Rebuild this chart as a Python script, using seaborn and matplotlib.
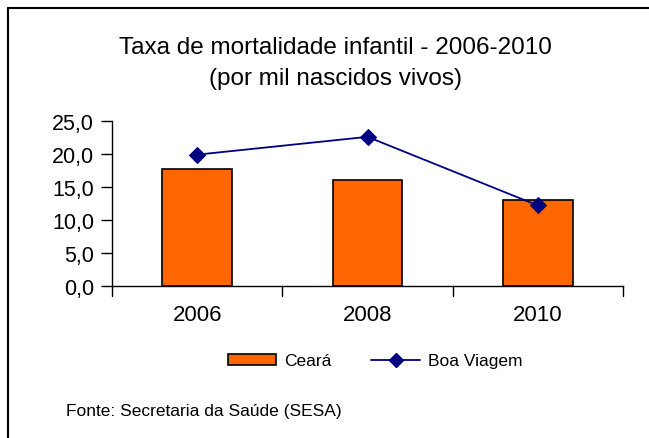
import matplotlib
matplotlib.use("Agg")
import matplotlib.pyplot as plt
import seaborn as sns
import pandas as pd
import numpy as np
from matplotlib.lines import Line2D
from matplotlib.patches import Patch

years = ["2006", "2008", "2010"]
ceara = [17.8, 16.0, 13.1]
boa_viagem = [19.9, 22.6, 12.2]
yticks = [0, 5, 10, 15, 20, 25]
ytick_labels = ["0,0", "5,0", "10,0", "15,0", "20,0", "25,0"]

sns.set_theme(style="white")
plt.rcParams['font.family'] = ['Liberation Sans', 'DejaVu Sans']
plt.rcParams['text.color'] = 'black'
plt.rcParams['xtick.color'] = 'black'
plt.rcParams['ytick.color'] = 'black'

W, H = 649, 439
fig = plt.figure(figsize=(W / 100, H / 100), dpi=100)
ax = fig.add_axes([112 / W, 1 - 287 / H, (623 - 112) / W, (287 - 122) / H])

df = pd.DataFrame({"ano": years, "Ceará": ceara, "Boa Viagem": boa_viagem})
sns.barplot(data=df, x="ano", y="Ceará", ax=ax, color="#FF6600",
            edgecolor="black", linewidth=1.2, width=0.41, saturation=1)
sns.lineplot(x=np.arange(len(years)), y=boa_viagem, ax=ax, color="#000080",
             marker="D", markersize=8, markeredgecolor="#000080", linewidth=1.3)

ax.set_xlim(-0.5, 2.5)
ax.set_ylim(0, 25)
ax.set_yticks(yticks)
ax.set_yticklabels(ytick_labels, fontsize=15.5)
ax.set_xticks(np.arange(len(years)))
ax.set_xticklabels(years, fontsize=16)
ax.tick_params(axis="x", length=0, pad=13)
ax.tick_params(axis="y", length=8, width=1, color="black", left=True, pad=5)
for xb in [-0.5, 0.5, 1.5, 2.5]:
    ax.plot([xb, xb], [0, -1.5], color="black", lw=1, clip_on=False)
ax.set_xlabel("")
ax.set_ylabel("")
for s in ["top", "right"]:
    ax.spines[s].set_visible(False)
for s in ["left", "bottom"]:
    ax.spines[s].set_color("black")
    ax.spines[s].set_linewidth(1)

fig.text(335 / W, 1 - 48 / H, "Taxa de mortalidade infantil - 2006-2010",
         ha="center", va="center", fontsize=17.5)
fig.text(335 / W, 1 - 79 / H, "(por mil nascidos vivos)",
         ha="center", va="center", fontsize=17.5)

handles = [Patch(facecolor="#FF6600", edgecolor="black", linewidth=1.2),
           Line2D([0], [0], color="#000080", marker="D", markersize=7, lw=1.3)]
fig.legend(handles, ["Ceará", "Boa Viagem"], loc="center",
           bbox_to_anchor=(375 / W, 1 - 362 / H), ncol=2, frameon=False,
           fontsize=12.5, handlelength=2.8, handleheight=0.6, columnspacing=2.3,
           handletextpad=0.45)

fig.text(66 / W, 1 - 412 / H, "Fonte: Secretaria da Saúde (SESA)",
         ha="left", va="center", fontsize=12.5)

fig.add_artist(Line2D([8 / W, 1], [1 - 9 / H, 1 - 9 / H], color="black", lw=1.5,
                      transform=fig.transFigure))
fig.add_artist(Line2D([8 / W, 8 / W], [0, 1 - 9 / H], color="black", lw=1.5,
                      transform=fig.transFigure))

fig.savefig("out.png", dpi=100)
